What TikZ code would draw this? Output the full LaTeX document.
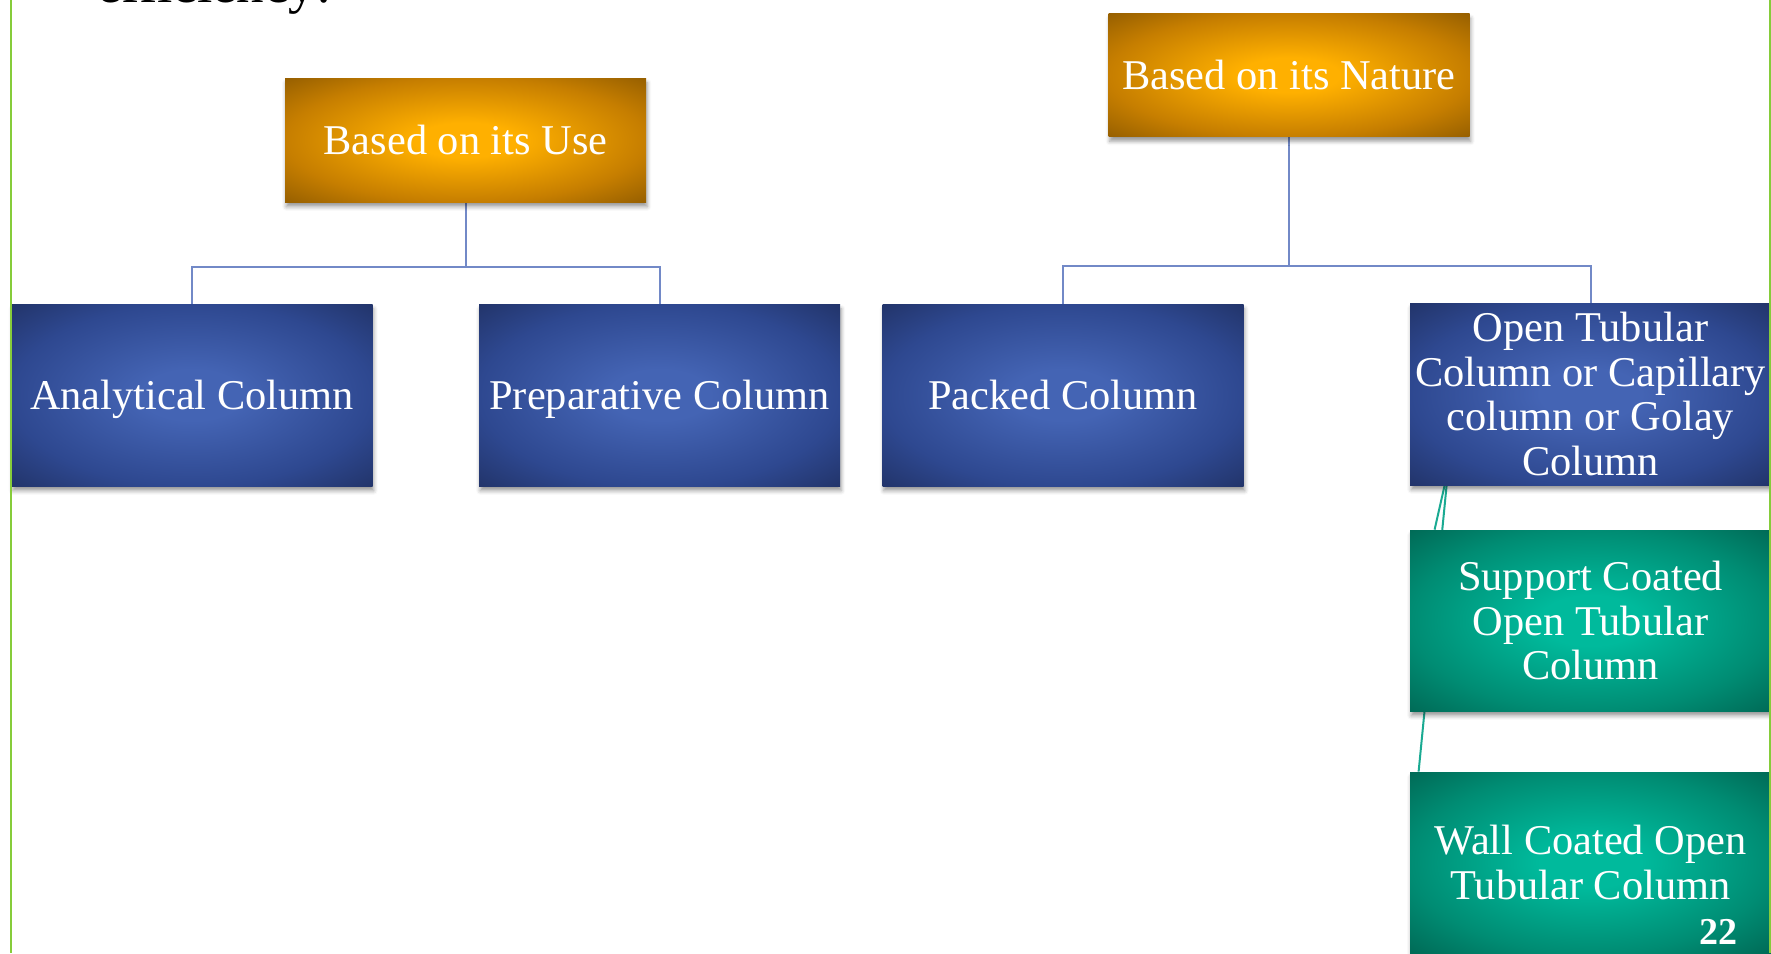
\documentclass[tikz,border=0pt]{standalone}
\usepackage{fontspec}
\setmainfont{Liberation Serif}
\usetikzlibrary{shadows.blur,calc,backgrounds}
\definecolor{orc}{RGB}{255,176,0}
\definecolor{ore}{RGB}{198,126,0}
\definecolor{ork}{RGB}{150,95,0}
\definecolor{blc}{RGB}{68,100,180}
\definecolor{ble}{RGB}{46,72,144}
\definecolor{blk}{RGB}{34,52,106}
\definecolor{tlc}{RGB}{0,186,156}
\definecolor{tle}{RGB}{0,140,115}
\definecolor{tlk}{RGB}{0,106,86}
\definecolor{conn}{RGB}{114,137,199}
\definecolor{tconn}{RGB}{26,170,146}
\definecolor{edgegreen}{RGB}{134,204,58}
\pgfdeclareradialshading{orshade}{\pgfpoint{0bp}{0bp}}{color(0bp)=(orc); color(7bp)=(orc); color(25bp)=(ore); color(35.5bp)=(ork); color(50bp)=(ork)}
\pgfdeclareradialshading{blshade}{\pgfpoint{0bp}{0bp}}{color(0bp)=(blc); color(7bp)=(blc); color(25bp)=(ble); color(35.5bp)=(blk); color(50bp)=(blk)}
\pgfdeclareradialshading{tlshade}{\pgfpoint{0bp}{0bp}}{color(0bp)=(tlc); color(7bp)=(tlc); color(25bp)=(tle); color(35.5bp)=(tlk); color(50bp)=(tlk)}
\tikzset{
  box/.style={draw=none, shade, minimum width=180.5pt, inner sep=1pt, text=white, align=center,
    font=\fontsize{21.2}{22.2}\selectfont,
    blur shadow={shadow xshift=0.6pt, shadow yshift=-2.4pt, shadow blur radius=2pt, shadow opacity=40}},
  oneline/.style={text height=14.4pt, text depth=0pt},
  orbox/.style={box, oneline, shading=orshade, minimum height=62pt},
  blbox/.style={box, shading=blshade, minimum height=91pt},
  tlbox/.style={box, shading=tlshade, minimum height=90.5pt},
  connline/.style={draw=conn, line width=1pt},
  tline/.style={draw=tconn, line width=1pt},
}
\begin{document}
\begin{tikzpicture}[x=0.5pt,y=-0.5pt]
\useasboundingbox (0,0) rectangle (1771,953);
\clip (0,0) rectangle (1771,953);
\node[anchor=base west, inner sep=0, font=\fontsize{27.5}{30}\selectfont] (eff) at (97,3) {efficiency:};

\node[orbox] (use) at (465.5,140) {Based on its Use};
\node[orbox, minimum height=61.5pt] (nat) at (1289,75) {Based on its Nature};

\node[blbox, oneline] (ana) at (192,395) {Analytical Column};
\node[blbox, oneline] (pre) at (659.5,395) {Preparative Column};
\node[blbox, oneline] (pak) at (1063,395) {Packed Column};
\node[blbox] (opt) at (1590.5,394) {Open Tubular\\Column or Capillary\\column or Golay\\Column};

\node[tlbox] (sup) at (1590.5,620.5) {Support Coated\\Open Tubular\\Column};
\node[tlbox] (wal) at (1590.5,862.5) {Wall Coated Open\\Tubular Column};

\begin{scope}[on background layer]
\draw[connline] (use.south) -- ++(0,64.5) -| (ana.north);
\draw[connline] (use.south) -- ++(0,64.5) -| (pre.north);
\draw[connline] (nat.south) -- ++(0,129.5) -| (pak.north);
\draw[connline] (nat.south) -- ++(0,129.5) -| (opt.north);
\draw[tline] ($(opt.south west)+(35,0)$) -- ($(sup.north west)+(25,0)$);
\draw[tline] ($(opt.south west)+(37,0)$) -- ($(wal.north west)+(9,0)$);
\end{scope}

\node[text=white, inner sep=0, font=\bfseries\fontsize{19}{19}\selectfont] (pg) at (1718,932) {22};

\coordinate (gl1) at (11,0);
\coordinate (gl2) at (11,953);
\coordinate (gr1) at (1770.5,0);
\coordinate (gr2) at (1770.5,953);
\draw[edgegreen, line width=1.1pt] (gl1) -- (gl2);
\draw[edgegreen, line width=1.1pt] (gr1) -- (gr2);
\end{tikzpicture}
\end{document}
